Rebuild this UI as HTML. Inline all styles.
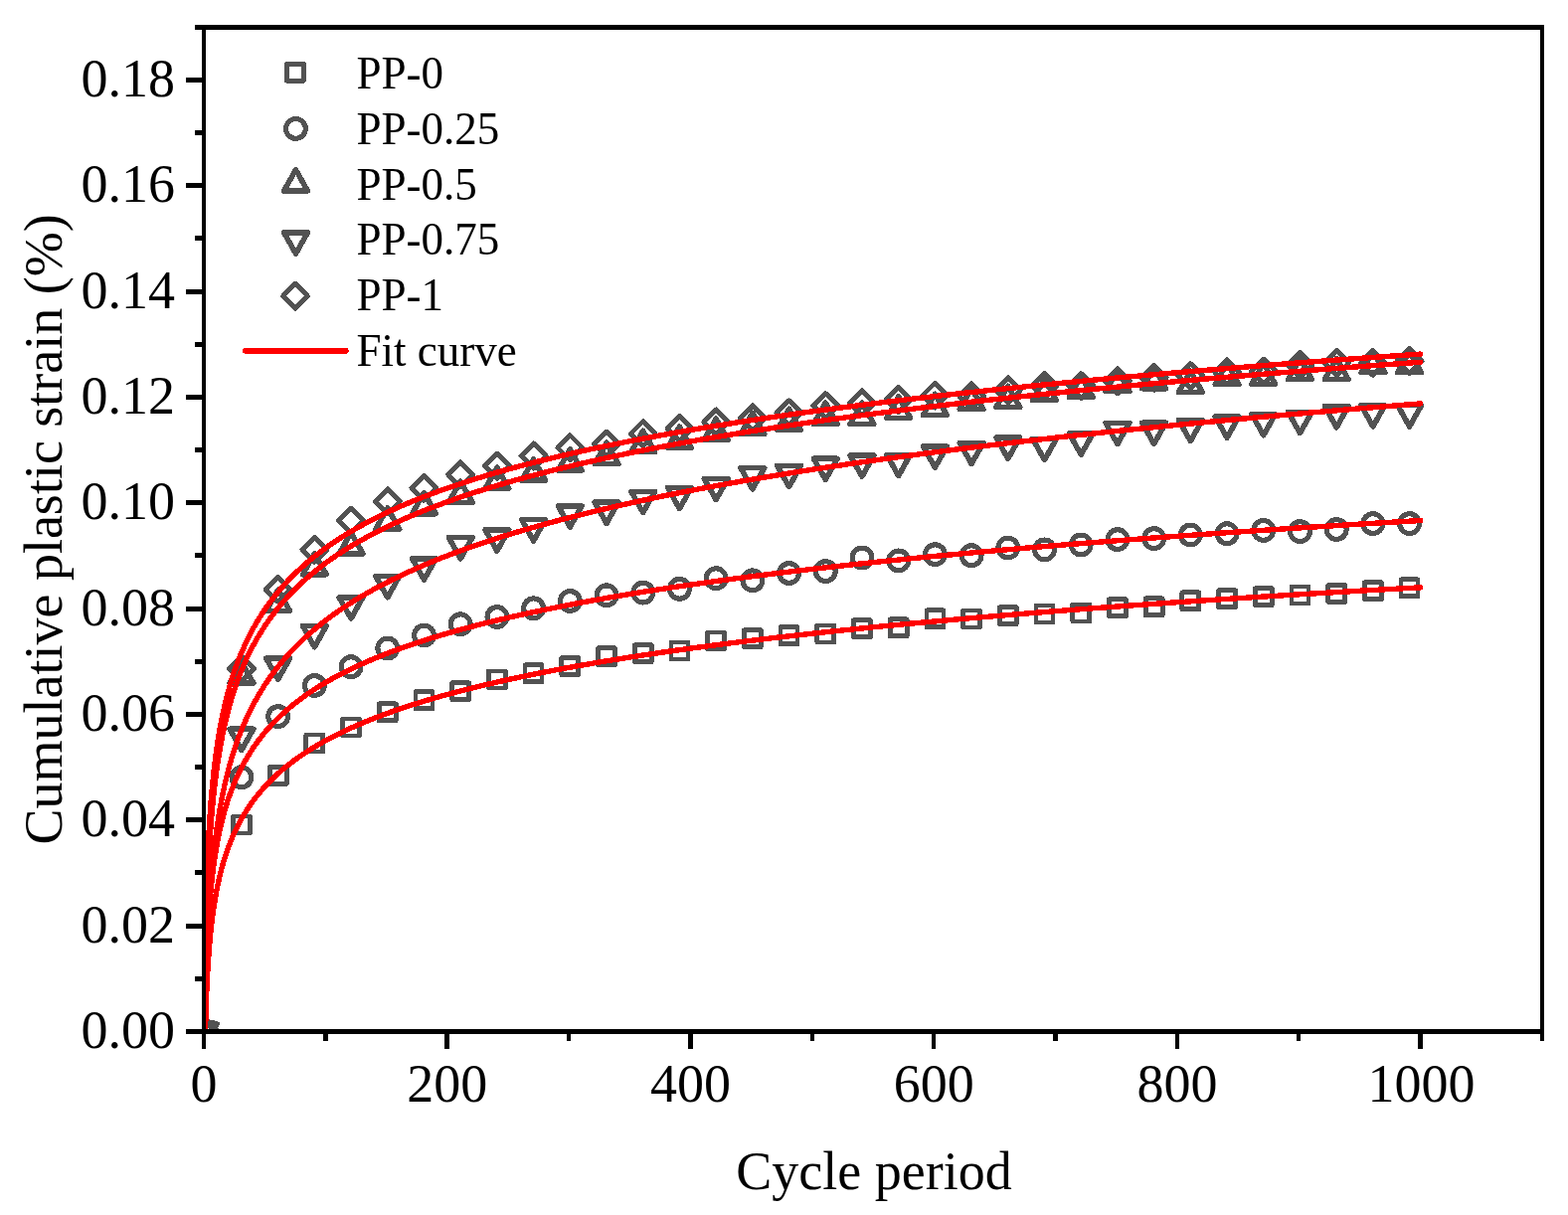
<!DOCTYPE html><html><head><meta charset="utf-8"><style>html,body{margin:0;padding:0;background:#fff;}svg{display:block;}</style></head><body>
<svg shape-rendering="crispEdges" width="1577" height="1222" viewBox="0 0 1577 1222" font-family="'Liberation Serif', 'Times New Roman', serif">
<rect width="1577" height="1222" fill="#fff"/>
<defs><clipPath id="pc"><rect x="207" y="30" width="1342" height="1005"/></clipPath></defs>
<g clip-path="url(#pc)" fill="none" stroke="#525252" stroke-width="4.7" stroke-linejoin="round">
<rect x="197.72" y="1028.50" width="17.0" height="17.0" stroke-width="4.75"/>
<rect x="234.43" y="821.00" width="17.0" height="17.0" stroke-width="4.75"/>
<rect x="271.14" y="771.50" width="17.0" height="17.0" stroke-width="4.75"/>
<rect x="307.85" y="738.90" width="17.0" height="17.0" stroke-width="4.75"/>
<rect x="344.56" y="723.00" width="17.0" height="17.0" stroke-width="4.75"/>
<rect x="381.26" y="707.80" width="17.0" height="17.0" stroke-width="4.75"/>
<rect x="417.97" y="695.70" width="17.0" height="17.0" stroke-width="4.75"/>
<rect x="454.68" y="686.70" width="17.0" height="17.0" stroke-width="4.75"/>
<rect x="491.39" y="674.90" width="17.0" height="17.0" stroke-width="4.75"/>
<rect x="528.10" y="668.70" width="17.0" height="17.0" stroke-width="4.75"/>
<rect x="564.80" y="661.60" width="17.0" height="17.0" stroke-width="4.75"/>
<rect x="601.51" y="651.70" width="17.0" height="17.0" stroke-width="4.75"/>
<rect x="638.22" y="648.70" width="17.0" height="17.0" stroke-width="4.75"/>
<rect x="674.93" y="646.00" width="17.0" height="17.0" stroke-width="4.75"/>
<rect x="711.64" y="636.00" width="17.0" height="17.0" stroke-width="4.75"/>
<rect x="748.34" y="633.70" width="17.0" height="17.0" stroke-width="4.75"/>
<rect x="785.05" y="630.70" width="17.0" height="17.0" stroke-width="4.75"/>
<rect x="821.76" y="628.90" width="17.0" height="17.0" stroke-width="4.75"/>
<rect x="858.47" y="623.60" width="17.0" height="17.0" stroke-width="4.75"/>
<rect x="895.18" y="622.80" width="17.0" height="17.0" stroke-width="4.75"/>
<rect x="931.88" y="613.80" width="17.0" height="17.0" stroke-width="4.75"/>
<rect x="968.59" y="614.00" width="17.0" height="17.0" stroke-width="4.75"/>
<rect x="1005.30" y="610.70" width="17.0" height="17.0" stroke-width="4.75"/>
<rect x="1042.01" y="608.90" width="17.0" height="17.0" stroke-width="4.75"/>
<rect x="1078.72" y="607.90" width="17.0" height="17.0" stroke-width="4.75"/>
<rect x="1115.42" y="602.80" width="17.0" height="17.0" stroke-width="4.75"/>
<rect x="1152.13" y="601.80" width="17.0" height="17.0" stroke-width="4.75"/>
<rect x="1188.84" y="595.80" width="17.0" height="17.0" stroke-width="4.75"/>
<rect x="1225.55" y="593.60" width="17.0" height="17.0" stroke-width="4.75"/>
<rect x="1262.26" y="591.70" width="17.0" height="17.0" stroke-width="4.75"/>
<rect x="1298.96" y="589.90" width="17.0" height="17.0" stroke-width="4.75"/>
<rect x="1335.67" y="588.50" width="17.0" height="17.0" stroke-width="4.75"/>
<rect x="1372.38" y="585.80" width="17.0" height="17.0" stroke-width="4.75"/>
<rect x="1409.09" y="582.80" width="17.0" height="17.0" stroke-width="4.75"/>
<circle cx="206.22" cy="1037.00" r="9.9" stroke-width="5.1"/>
<circle cx="242.93" cy="781.70" r="9.9" stroke-width="5.1"/>
<circle cx="279.64" cy="720.60" r="9.9" stroke-width="5.1"/>
<circle cx="316.35" cy="689.50" r="9.9" stroke-width="5.1"/>
<circle cx="353.06" cy="670.70" r="9.9" stroke-width="5.1"/>
<circle cx="389.76" cy="652.00" r="9.9" stroke-width="5.1"/>
<circle cx="426.47" cy="639.00" r="9.9" stroke-width="5.1"/>
<circle cx="463.18" cy="627.80" r="9.9" stroke-width="5.1"/>
<circle cx="499.89" cy="620.50" r="9.9" stroke-width="5.1"/>
<circle cx="536.60" cy="611.80" r="9.9" stroke-width="5.1"/>
<circle cx="573.30" cy="604.50" r="9.9" stroke-width="5.1"/>
<circle cx="610.01" cy="598.80" r="9.9" stroke-width="5.1"/>
<circle cx="646.72" cy="596.10" r="9.9" stroke-width="5.1"/>
<circle cx="683.43" cy="592.30" r="9.9" stroke-width="5.1"/>
<circle cx="720.14" cy="581.70" r="9.9" stroke-width="5.1"/>
<circle cx="756.84" cy="583.80" r="9.9" stroke-width="5.1"/>
<circle cx="793.55" cy="576.50" r="9.9" stroke-width="5.1"/>
<circle cx="830.26" cy="574.60" r="9.9" stroke-width="5.1"/>
<circle cx="866.97" cy="561.00" r="9.9" stroke-width="5.1"/>
<circle cx="903.68" cy="563.90" r="9.9" stroke-width="5.1"/>
<circle cx="940.38" cy="557.70" r="9.9" stroke-width="5.1"/>
<circle cx="977.09" cy="558.70" r="9.9" stroke-width="5.1"/>
<circle cx="1013.80" cy="551.00" r="9.9" stroke-width="5.1"/>
<circle cx="1050.51" cy="552.90" r="9.9" stroke-width="5.1"/>
<circle cx="1087.22" cy="548.00" r="9.9" stroke-width="5.1"/>
<circle cx="1123.92" cy="542.60" r="9.9" stroke-width="5.1"/>
<circle cx="1160.63" cy="541.60" r="9.9" stroke-width="5.1"/>
<circle cx="1197.34" cy="538.00" r="9.9" stroke-width="5.1"/>
<circle cx="1234.05" cy="536.70" r="9.9" stroke-width="5.1"/>
<circle cx="1270.76" cy="533.40" r="9.9" stroke-width="5.1"/>
<circle cx="1307.46" cy="534.60" r="9.9" stroke-width="5.1"/>
<circle cx="1344.17" cy="532.50" r="9.9" stroke-width="5.1"/>
<circle cx="1380.88" cy="526.60" r="9.9" stroke-width="5.1"/>
<circle cx="1417.59" cy="526.60" r="9.9" stroke-width="5.1"/>
<path d="M206.22,1022.85 L218.12,1044.08 L194.32,1044.08Z" stroke-width="5.5"/>
<path d="M242.93,665.85 L254.83,687.08 L231.03,687.08Z" stroke-width="5.5"/>
<path d="M279.64,593.25 L291.54,614.48 L267.74,614.48Z" stroke-width="5.5"/>
<path d="M316.35,556.55 L328.25,577.78 L304.45,577.78Z" stroke-width="5.5"/>
<path d="M353.06,535.65 L364.96,556.88 L341.16,556.88Z" stroke-width="5.5"/>
<path d="M389.76,511.05 L401.66,532.28 L377.86,532.28Z" stroke-width="5.5"/>
<path d="M426.47,495.55 L438.37,516.77 L414.57,516.77Z" stroke-width="5.5"/>
<path d="M463.18,484.05 L475.08,505.27 L451.28,505.27Z" stroke-width="5.5"/>
<path d="M499.89,470.15 L511.79,491.38 L487.99,491.38Z" stroke-width="5.5"/>
<path d="M536.60,461.95 L548.50,483.18 L524.70,483.18Z" stroke-width="5.5"/>
<path d="M573.30,451.85 L585.20,473.07 L561.40,473.07Z" stroke-width="5.5"/>
<path d="M610.01,445.25 L621.91,466.47 L598.11,466.47Z" stroke-width="5.5"/>
<path d="M646.72,433.35 L658.62,454.57 L634.82,454.57Z" stroke-width="5.5"/>
<path d="M683.43,429.15 L695.33,450.38 L671.53,450.38Z" stroke-width="5.5"/>
<path d="M720.14,421.15 L732.04,442.38 L708.24,442.38Z" stroke-width="5.5"/>
<path d="M756.84,415.25 L768.74,436.47 L744.94,436.47Z" stroke-width="5.5"/>
<path d="M793.55,411.35 L805.45,432.57 L781.65,432.57Z" stroke-width="5.5"/>
<path d="M830.26,405.15 L842.16,426.38 L818.36,426.38Z" stroke-width="5.5"/>
<path d="M866.97,405.15 L878.87,426.38 L855.07,426.38Z" stroke-width="5.5"/>
<path d="M903.68,399.05 L915.58,420.27 L891.78,420.27Z" stroke-width="5.5"/>
<path d="M940.38,396.25 L952.28,417.47 L928.48,417.47Z" stroke-width="5.5"/>
<path d="M977.09,390.45 L988.99,411.68 L965.19,411.68Z" stroke-width="5.5"/>
<path d="M1013.80,388.35 L1025.70,409.57 L1001.90,409.57Z" stroke-width="5.5"/>
<path d="M1050.51,381.45 L1062.41,402.68 L1038.61,402.68Z" stroke-width="5.5"/>
<path d="M1087.22,378.25 L1099.12,399.47 L1075.32,399.47Z" stroke-width="5.5"/>
<path d="M1123.92,372.45 L1135.82,393.68 L1112.02,393.68Z" stroke-width="5.5"/>
<path d="M1160.63,369.55 L1172.53,390.77 L1148.73,390.77Z" stroke-width="5.5"/>
<path d="M1197.34,373.15 L1209.24,394.38 L1185.44,394.38Z" stroke-width="5.5"/>
<path d="M1234.05,365.25 L1245.95,386.47 L1222.15,386.47Z" stroke-width="5.5"/>
<path d="M1270.76,365.25 L1282.66,386.47 L1258.86,386.47Z" stroke-width="5.5"/>
<path d="M1307.46,360.45 L1319.36,381.68 L1295.56,381.68Z" stroke-width="5.5"/>
<path d="M1344.17,360.45 L1356.07,381.68 L1332.27,381.68Z" stroke-width="5.5"/>
<path d="M1380.88,353.45 L1392.78,374.68 L1368.98,374.68Z" stroke-width="5.5"/>
<path d="M1417.59,353.45 L1429.49,374.68 L1405.69,374.68Z" stroke-width="5.5"/>
<path d="M206.22,1051.15 L218.12,1029.92 L194.32,1029.92Z" stroke-width="5.5"/>
<path d="M242.93,754.45 L254.83,733.22 L231.03,733.22Z" stroke-width="5.5"/>
<path d="M279.64,683.35 L291.54,662.12 L267.74,662.12Z" stroke-width="5.5"/>
<path d="M316.35,650.75 L328.25,629.52 L304.45,629.52Z" stroke-width="5.5"/>
<path d="M353.06,622.05 L364.96,600.82 L341.16,600.82Z" stroke-width="5.5"/>
<path d="M389.76,600.85 L401.66,579.62 L377.86,579.62Z" stroke-width="5.5"/>
<path d="M426.47,583.05 L438.37,561.82 L414.57,561.82Z" stroke-width="5.5"/>
<path d="M463.18,561.85 L475.08,540.62 L451.28,540.62Z" stroke-width="5.5"/>
<path d="M499.89,554.15 L511.79,532.92 L487.99,532.92Z" stroke-width="5.5"/>
<path d="M536.60,543.95 L548.50,522.72 L524.70,522.72Z" stroke-width="5.5"/>
<path d="M573.30,530.15 L585.20,508.93 L561.40,508.93Z" stroke-width="5.5"/>
<path d="M610.01,526.35 L621.91,505.13 L598.11,505.13Z" stroke-width="5.5"/>
<path d="M646.72,515.55 L658.62,494.32 L634.82,494.32Z" stroke-width="5.5"/>
<path d="M683.43,511.65 L695.33,490.43 L671.53,490.43Z" stroke-width="5.5"/>
<path d="M720.14,502.65 L732.04,481.43 L708.24,481.43Z" stroke-width="5.5"/>
<path d="M756.84,491.85 L768.74,470.62 L744.94,470.62Z" stroke-width="5.5"/>
<path d="M793.55,489.55 L805.45,468.32 L781.65,468.32Z" stroke-width="5.5"/>
<path d="M830.26,482.45 L842.16,461.23 L818.36,461.23Z" stroke-width="5.5"/>
<path d="M866.97,479.25 L878.87,458.03 L855.07,458.03Z" stroke-width="5.5"/>
<path d="M903.68,478.55 L915.58,457.32 L891.78,457.32Z" stroke-width="5.5"/>
<path d="M940.38,470.25 L952.28,449.03 L928.48,449.03Z" stroke-width="5.5"/>
<path d="M977.09,466.55 L988.99,445.32 L965.19,445.32Z" stroke-width="5.5"/>
<path d="M1013.80,461.35 L1025.70,440.12 L1001.90,440.12Z" stroke-width="5.5"/>
<path d="M1050.51,462.65 L1062.41,441.43 L1038.61,441.43Z" stroke-width="5.5"/>
<path d="M1087.22,457.25 L1099.12,436.03 L1075.32,436.03Z" stroke-width="5.5"/>
<path d="M1123.92,446.65 L1135.82,425.43 L1112.02,425.43Z" stroke-width="5.5"/>
<path d="M1160.63,446.45 L1172.53,425.23 L1148.73,425.23Z" stroke-width="5.5"/>
<path d="M1197.34,443.65 L1209.24,422.43 L1185.44,422.43Z" stroke-width="5.5"/>
<path d="M1234.05,440.25 L1245.95,419.03 L1222.15,419.03Z" stroke-width="5.5"/>
<path d="M1270.76,437.75 L1282.66,416.53 L1258.86,416.53Z" stroke-width="5.5"/>
<path d="M1307.46,435.65 L1319.36,414.43 L1295.56,414.43Z" stroke-width="5.5"/>
<path d="M1344.17,429.85 L1356.07,408.62 L1332.27,408.62Z" stroke-width="5.5"/>
<path d="M1380.88,428.95 L1392.78,407.73 L1368.98,407.73Z" stroke-width="5.5"/>
<path d="M1417.59,428.95 L1429.49,407.73 L1405.69,407.73Z" stroke-width="5.5"/>
<path d="M206.22,1024.50 L218.72,1037.00 L206.22,1049.50 L193.72,1037.00Z" stroke-width="4.9"/>
<path d="M242.93,659.90 L255.43,672.40 L242.93,684.90 L230.43,672.40Z" stroke-width="4.9"/>
<path d="M279.64,580.20 L292.14,592.70 L279.64,605.20 L267.14,592.70Z" stroke-width="4.9"/>
<path d="M316.35,540.30 L328.85,552.80 L316.35,565.30 L303.85,552.80Z" stroke-width="4.9"/>
<path d="M353.06,511.10 L365.56,523.60 L353.06,536.10 L340.56,523.60Z" stroke-width="4.9"/>
<path d="M389.76,491.80 L402.26,504.30 L389.76,516.80 L377.26,504.30Z" stroke-width="4.9"/>
<path d="M426.47,478.20 L438.97,490.70 L426.47,503.20 L413.97,490.70Z" stroke-width="4.9"/>
<path d="M463.18,464.80 L475.68,477.30 L463.18,489.80 L450.68,477.30Z" stroke-width="4.9"/>
<path d="M499.89,456.10 L512.39,468.60 L499.89,481.10 L487.39,468.60Z" stroke-width="4.9"/>
<path d="M536.60,446.00 L549.10,458.50 L536.60,471.00 L524.10,458.50Z" stroke-width="4.9"/>
<path d="M573.30,437.80 L585.80,450.30 L573.30,462.80 L560.80,450.30Z" stroke-width="4.9"/>
<path d="M610.01,434.10 L622.51,446.60 L610.01,459.10 L597.51,446.60Z" stroke-width="4.9"/>
<path d="M646.72,423.80 L659.22,436.30 L646.72,448.80 L634.22,436.30Z" stroke-width="4.9"/>
<path d="M683.43,418.50 L695.93,431.00 L683.43,443.50 L670.93,431.00Z" stroke-width="4.9"/>
<path d="M720.14,412.00 L732.64,424.50 L720.14,437.00 L707.64,424.50Z" stroke-width="4.9"/>
<path d="M756.84,407.90 L769.34,420.40 L756.84,432.90 L744.34,420.40Z" stroke-width="4.9"/>
<path d="M793.55,402.90 L806.05,415.40 L793.55,427.90 L781.05,415.40Z" stroke-width="4.9"/>
<path d="M830.26,395.70 L842.76,408.20 L830.26,420.70 L817.76,408.20Z" stroke-width="4.9"/>
<path d="M866.97,392.80 L879.47,405.30 L866.97,417.80 L854.47,405.30Z" stroke-width="4.9"/>
<path d="M903.68,389.50 L916.18,402.00 L903.68,414.50 L891.18,402.00Z" stroke-width="4.9"/>
<path d="M940.38,385.10 L952.88,397.60 L940.38,410.10 L927.88,397.60Z" stroke-width="4.9"/>
<path d="M977.09,385.90 L989.59,398.40 L977.09,410.90 L964.59,398.40Z" stroke-width="4.9"/>
<path d="M1013.80,379.80 L1026.30,392.30 L1013.80,404.80 L1001.30,392.30Z" stroke-width="4.9"/>
<path d="M1050.51,375.20 L1063.01,387.70 L1050.51,400.20 L1038.01,387.70Z" stroke-width="4.9"/>
<path d="M1087.22,375.60 L1099.72,388.10 L1087.22,400.60 L1074.72,388.10Z" stroke-width="4.9"/>
<path d="M1123.92,370.80 L1136.42,383.30 L1123.92,395.80 L1111.42,383.30Z" stroke-width="4.9"/>
<path d="M1160.63,367.20 L1173.13,379.70 L1160.63,392.20 L1148.13,379.70Z" stroke-width="4.9"/>
<path d="M1197.34,365.70 L1209.84,378.20 L1197.34,390.70 L1184.84,378.20Z" stroke-width="4.9"/>
<path d="M1234.05,361.60 L1246.55,374.10 L1234.05,386.60 L1221.55,374.10Z" stroke-width="4.9"/>
<path d="M1270.76,361.10 L1283.26,373.60 L1270.76,386.10 L1258.26,373.60Z" stroke-width="4.9"/>
<path d="M1307.46,354.60 L1319.96,367.10 L1307.46,379.60 L1294.96,367.10Z" stroke-width="4.9"/>
<path d="M1344.17,352.50 L1356.67,365.00 L1344.17,377.50 L1331.67,365.00Z" stroke-width="4.9"/>
<path d="M1380.88,352.50 L1393.38,365.00 L1380.88,377.50 L1368.38,365.00Z" stroke-width="4.9"/>
<path d="M1417.59,350.70 L1430.09,363.20 L1417.59,375.70 L1405.09,363.20Z" stroke-width="4.9"/>
</g>
<g clip-path="url(#pc)" fill="none" stroke="#ff0000" stroke-width="5.4" stroke-linejoin="round" stroke-linecap="round">
<path d="M206.14,1057.86 L206.18,1055.71 L206.22,1053.56 L206.26,1051.41 L206.30,1049.25 L206.34,1047.10 L206.38,1044.95 L206.43,1042.80 L206.47,1040.65 L206.52,1038.50 L206.57,1036.35 L206.62,1034.19 L206.68,1032.04 L206.73,1029.89 L206.79,1027.74 L206.85,1025.59 L206.91,1023.44 L206.97,1021.29 L207.03,1019.13 L207.10,1016.98 L207.17,1014.83 L207.24,1012.68 L207.31,1010.53 L207.39,1008.38 L207.47,1006.23 L207.55,1004.07 L207.63,1001.92 L207.72,999.77 L207.80,997.62 L207.90,995.47 L207.99,993.32 L208.09,991.17 L208.19,989.02 L208.29,986.86 L208.40,984.71 L208.51,982.56 L208.63,980.41 L208.75,978.26 L208.87,976.11 L208.99,973.96 L209.13,971.80 L209.26,969.65 L209.40,967.50 L209.54,965.35 L209.69,963.20 L209.84,961.05 L210.00,958.90 L210.17,956.74 L210.33,954.59 L210.51,952.44 L210.69,950.29 L210.88,948.14 L211.07,945.99 L211.27,943.84 L211.47,941.68 L211.68,939.53 L211.90,937.38 L212.12,935.23 L212.36,933.08 L212.60,930.93 L212.85,928.78 L213.10,926.63 L213.37,924.47 L213.64,922.32 L213.92,920.17 L214.21,918.02 L214.52,915.87 L214.83,913.72 L215.15,911.57 L215.48,909.41 L215.82,907.26 L216.17,905.11 L216.54,902.96 L216.92,900.81 L217.31,898.66 L217.71,896.51 L218.12,894.35 L218.55,892.20 L218.99,890.05 L219.45,887.90 L219.92,885.75 L220.41,883.60 L220.91,881.45 L221.43,879.30 L221.97,877.14 L222.53,874.99 L223.10,872.84 L223.69,870.69 L224.30,868.54 L224.93,866.39 L225.58,864.24 L226.25,862.08 L226.95,859.93 L227.66,857.78 L228.41,855.63 L229.17,853.48 L229.96,851.33 L230.77,849.18 L231.62,847.02 L232.49,844.87 L233.38,842.72 L234.31,840.57 L235.27,838.42 L236.26,836.27 L237.28,834.12 L238.33,831.96 L239.42,829.81 L240.55,827.66 L241.71,825.51 L242.32,824.40 L248.28,814.49 L254.24,805.85 L260.20,798.20 L266.16,791.34 L272.13,785.12 L278.09,779.42 L284.05,774.17 L290.01,769.31 L295.97,764.77 L301.93,760.52 L307.89,756.53 L313.85,752.76 L319.82,749.19 L325.78,745.80 L331.74,742.58 L337.70,739.50 L343.66,736.56 L349.62,733.75 L355.58,731.04 L361.54,728.44 L367.51,725.94 L373.47,723.53 L379.43,721.20 L385.39,718.96 L391.35,716.78 L397.31,714.67 L403.27,712.63 L409.23,710.65 L415.19,708.72 L421.16,706.85 L427.12,705.03 L433.08,703.26 L439.04,701.53 L445.00,699.85 L450.96,698.20 L456.92,696.60 L462.88,695.04 L468.85,693.51 L474.81,692.01 L480.77,690.55 L486.73,689.12 L492.69,687.72 L498.65,686.34 L504.61,685.00 L510.57,683.68 L516.54,682.39 L522.50,681.12 L528.46,679.87 L534.42,678.65 L540.38,677.45 L546.34,676.27 L552.30,675.11 L558.26,673.97 L564.22,672.85 L570.19,671.75 L576.15,670.67 L582.11,669.60 L588.07,668.55 L594.03,667.52 L599.99,666.50 L605.95,665.50 L611.91,664.51 L617.88,663.54 L623.84,662.58 L629.80,661.63 L635.76,660.70 L641.72,659.78 L647.68,658.87 L653.64,657.98 L659.60,657.09 L665.57,656.22 L671.53,655.36 L677.49,654.51 L683.45,653.67 L689.41,652.84 L695.37,652.03 L701.33,651.22 L707.29,650.42 L713.26,649.63 L719.22,648.85 L725.18,648.08 L731.14,647.31 L737.10,646.56 L743.06,645.81 L749.02,645.08 L754.98,644.35 L760.94,643.63 L766.91,642.91 L772.87,642.21 L778.83,641.51 L784.79,640.82 L790.75,640.13 L796.71,639.45 L802.67,638.78 L808.63,638.12 L814.60,637.46 L820.56,636.81 L826.52,636.16 L832.48,635.53 L838.44,634.89 L844.40,634.27 L850.36,633.64 L856.32,633.03 L862.29,632.42 L868.25,631.82 L874.21,631.22 L880.17,630.62 L886.13,630.03 L892.09,629.45 L898.05,628.87 L904.01,628.30 L909.97,627.73 L915.94,627.17 L921.90,626.61 L927.86,626.06 L933.82,625.51 L939.78,624.96 L945.74,624.42 L951.70,623.88 L957.66,623.35 L963.63,622.82 L969.59,622.30 L975.55,621.78 L981.51,621.26 L987.47,620.75 L993.43,620.24 L999.39,619.74 L1005.35,619.24 L1011.32,618.74 L1017.28,618.25 L1023.24,617.76 L1029.20,617.27 L1035.16,616.79 L1041.12,616.31 L1047.08,615.84 L1053.04,615.37 L1059.01,614.90 L1064.97,614.43 L1070.93,613.97 L1076.89,613.51 L1082.85,613.05 L1088.81,612.60 L1094.77,612.15 L1100.73,611.70 L1106.69,611.26 L1112.66,610.82 L1118.62,610.38 L1124.58,609.95 L1130.54,609.51 L1136.50,609.08 L1142.46,608.66 L1148.42,608.23 L1154.38,607.81 L1160.35,607.39 L1166.31,606.98 L1172.27,606.56 L1178.23,606.15 L1184.19,605.74 L1190.15,605.34 L1196.11,604.93 L1202.07,604.53 L1208.04,604.13 L1214.00,603.74 L1219.96,603.34 L1225.92,602.95 L1231.88,602.56 L1237.84,602.17 L1243.80,601.79 L1249.76,601.40 L1255.72,601.02 L1261.69,600.64 L1267.65,600.27 L1273.61,599.89 L1279.57,599.52 L1285.53,599.15 L1291.49,598.78 L1297.45,598.42 L1303.41,598.05 L1309.38,597.69 L1315.34,597.33 L1321.30,596.97 L1327.26,596.62 L1333.22,596.26 L1339.18,595.91 L1345.14,595.56 L1351.10,595.21 L1357.07,594.86 L1363.03,594.52 L1368.99,594.17 L1374.95,593.83 L1380.91,593.49 L1386.87,593.15 L1392.83,592.81 L1398.79,592.48 L1404.76,592.15 L1410.72,591.81 L1416.68,591.48 L1422.64,591.16 L1428.60,590.83"/>
<path d="M205.75,1059.93 L205.78,1057.57 L205.80,1055.21 L205.83,1052.85 L205.85,1050.49 L205.88,1048.13 L205.91,1045.77 L205.94,1043.41 L205.97,1041.04 L206.00,1038.68 L206.04,1036.32 L206.07,1033.96 L206.10,1031.60 L206.14,1029.24 L206.18,1026.88 L206.22,1024.51 L206.26,1022.15 L206.30,1019.79 L206.34,1017.43 L206.38,1015.07 L206.43,1012.71 L206.47,1010.35 L206.52,1007.99 L206.57,1005.62 L206.62,1003.26 L206.68,1000.90 L206.73,998.54 L206.79,996.18 L206.85,993.82 L206.91,991.46 L206.97,989.10 L207.03,986.73 L207.10,984.37 L207.17,982.01 L207.24,979.65 L207.31,977.29 L207.39,974.93 L207.47,972.57 L207.55,970.20 L207.63,967.84 L207.72,965.48 L207.80,963.12 L207.90,960.76 L207.99,958.40 L208.09,956.04 L208.19,953.68 L208.29,951.31 L208.40,948.95 L208.51,946.59 L208.63,944.23 L208.75,941.87 L208.87,939.51 L208.99,937.15 L209.13,934.79 L209.26,932.42 L209.40,930.06 L209.54,927.70 L209.69,925.34 L209.84,922.98 L210.00,920.62 L210.17,918.26 L210.33,915.89 L210.51,913.53 L210.69,911.17 L210.88,908.81 L211.07,906.45 L211.27,904.09 L211.47,901.73 L211.68,899.37 L211.90,897.00 L212.12,894.64 L212.36,892.28 L212.60,889.92 L212.85,887.56 L213.10,885.20 L213.37,882.84 L213.64,880.48 L213.92,878.11 L214.21,875.75 L214.52,873.39 L214.83,871.03 L215.15,868.67 L215.48,866.31 L215.82,863.95 L216.17,861.59 L216.54,859.22 L216.92,856.86 L217.31,854.50 L217.71,852.14 L218.12,849.78 L218.55,847.42 L218.99,845.06 L219.45,842.70 L219.92,840.34 L220.41,837.97 L220.91,835.61 L221.43,833.25 L221.97,830.89 L222.53,828.53 L223.10,826.17 L223.69,823.81 L224.30,821.45 L224.93,819.09 L225.58,816.73 L226.25,814.37 L226.95,812.00 L227.66,809.64 L228.41,807.28 L229.17,804.92 L229.96,802.56 L230.77,800.20 L231.62,797.84 L232.49,795.48 L233.38,793.12 L234.31,790.76 L235.27,788.40 L236.26,786.04 L237.28,783.68 L238.33,781.33 L239.42,778.97 L240.55,776.61 L241.71,774.25 L242.32,773.04 L248.28,762.17 L254.24,752.71 L260.20,744.35 L266.16,736.85 L272.13,730.05 L278.09,723.85 L284.05,718.13 L290.01,712.85 L295.97,707.93 L301.93,703.32 L307.89,699.00 L313.85,694.93 L319.82,691.09 L325.78,687.44 L331.74,683.98 L337.70,680.67 L343.66,677.52 L349.62,674.51 L355.58,671.61 L361.54,668.84 L367.51,666.17 L373.47,663.60 L379.43,661.12 L385.39,658.73 L391.35,656.41 L397.31,654.17 L403.27,652.00 L409.23,649.90 L415.19,647.86 L421.16,645.87 L427.12,643.94 L433.08,642.06 L439.04,640.24 L445.00,638.45 L450.96,636.72 L456.92,635.02 L462.88,633.36 L468.85,631.75 L474.81,630.17 L480.77,628.62 L486.73,627.11 L492.69,625.63 L498.65,624.18 L504.61,622.76 L510.57,621.37 L516.54,620.00 L522.50,618.66 L528.46,617.35 L534.42,616.06 L540.38,614.79 L546.34,613.55 L552.30,612.32 L558.26,611.12 L564.22,609.94 L570.19,608.78 L576.15,607.64 L582.11,606.51 L588.07,605.41 L594.03,604.32 L599.99,603.24 L605.95,602.19 L611.91,601.15 L617.88,600.12 L623.84,599.11 L629.80,598.11 L635.76,597.13 L641.72,596.16 L647.68,595.20 L653.64,594.26 L659.60,593.33 L665.57,592.41 L671.53,591.50 L677.49,590.61 L683.45,589.72 L689.41,588.85 L695.37,587.99 L701.33,587.14 L707.29,586.29 L713.26,585.46 L719.22,584.64 L725.18,583.83 L731.14,583.02 L737.10,582.23 L743.06,581.44 L749.02,580.67 L754.98,579.90 L760.94,579.14 L766.91,578.39 L772.87,577.64 L778.83,576.91 L784.79,576.18 L790.75,575.46 L796.71,574.74 L802.67,574.04 L808.63,573.34 L814.60,572.64 L820.56,571.96 L826.52,571.28 L832.48,570.61 L838.44,569.94 L844.40,569.28 L850.36,568.63 L856.32,567.98 L862.29,567.34 L868.25,566.70 L874.21,566.07 L880.17,565.44 L886.13,564.82 L892.09,564.21 L898.05,563.60 L904.01,563.00 L909.97,562.40 L915.94,561.81 L921.90,561.22 L927.86,560.63 L933.82,560.05 L939.78,559.48 L945.74,558.91 L951.70,558.35 L957.66,557.79 L963.63,557.23 L969.59,556.68 L975.55,556.13 L981.51,555.59 L987.47,555.05 L993.43,554.51 L999.39,553.98 L1005.35,553.46 L1011.32,552.93 L1017.28,552.41 L1023.24,551.90 L1029.20,551.39 L1035.16,550.88 L1041.12,550.37 L1047.08,549.87 L1053.04,549.38 L1059.01,548.88 L1064.97,548.39 L1070.93,547.91 L1076.89,547.42 L1082.85,546.94 L1088.81,546.47 L1094.77,545.99 L1100.73,545.52 L1106.69,545.05 L1112.66,544.59 L1118.62,544.13 L1124.58,543.67 L1130.54,543.22 L1136.50,542.76 L1142.46,542.31 L1148.42,541.87 L1154.38,541.42 L1160.35,540.98 L1166.31,540.54 L1172.27,540.11 L1178.23,539.67 L1184.19,539.24 L1190.15,538.82 L1196.11,538.39 L1202.07,537.97 L1208.04,537.55 L1214.00,537.13 L1219.96,536.72 L1225.92,536.30 L1231.88,535.89 L1237.84,535.49 L1243.80,535.08 L1249.76,534.68 L1255.72,534.28 L1261.69,533.88 L1267.65,533.48 L1273.61,533.09 L1279.57,532.69 L1285.53,532.31 L1291.49,531.92 L1297.45,531.53 L1303.41,531.15 L1309.38,530.77 L1315.34,530.39 L1321.30,530.01 L1327.26,529.64 L1333.22,529.26 L1339.18,528.89 L1345.14,528.52 L1351.10,528.15 L1357.07,527.79 L1363.03,527.42 L1368.99,527.06 L1374.95,526.70 L1380.91,526.34 L1386.87,525.99 L1392.83,525.63 L1398.79,525.28 L1404.76,524.93 L1410.72,524.58 L1416.68,524.23 L1422.64,523.89 L1428.60,523.54"/>
<path d="M205.60,1059.90 L205.62,1056.91 L205.64,1053.92 L205.66,1050.92 L205.68,1047.93 L205.70,1044.94 L205.73,1041.95 L205.75,1038.96 L205.78,1035.97 L205.80,1032.98 L205.83,1029.99 L205.85,1027.00 L205.88,1024.01 L205.91,1021.01 L205.94,1018.02 L205.97,1015.03 L206.00,1012.04 L206.04,1009.05 L206.07,1006.06 L206.10,1003.07 L206.14,1000.08 L206.18,997.09 L206.22,994.10 L206.26,991.10 L206.30,988.11 L206.34,985.12 L206.38,982.13 L206.43,979.14 L206.47,976.15 L206.52,973.16 L206.57,970.17 L206.62,967.18 L206.68,964.19 L206.73,961.19 L206.79,958.20 L206.85,955.21 L206.91,952.22 L206.97,949.23 L207.03,946.24 L207.10,943.25 L207.17,940.26 L207.24,937.27 L207.31,934.28 L207.39,931.29 L207.47,928.29 L207.55,925.30 L207.63,922.31 L207.72,919.32 L207.80,916.33 L207.90,913.34 L207.99,910.35 L208.09,907.36 L208.19,904.37 L208.29,901.38 L208.40,898.38 L208.51,895.39 L208.63,892.40 L208.75,889.41 L208.87,886.42 L208.99,883.43 L209.13,880.44 L209.26,877.45 L209.40,874.46 L209.54,871.47 L209.69,868.48 L209.84,865.48 L210.00,862.49 L210.17,859.50 L210.33,856.51 L210.51,853.52 L210.69,850.53 L210.88,847.54 L211.07,844.55 L211.27,841.56 L211.47,838.57 L211.68,835.58 L211.90,832.58 L212.12,829.59 L212.36,826.60 L212.60,823.61 L212.85,820.62 L213.10,817.63 L213.37,814.64 L213.64,811.65 L213.92,808.66 L214.21,805.67 L214.52,802.68 L214.83,799.69 L215.15,796.70 L215.48,793.70 L215.82,790.71 L216.17,787.72 L216.54,784.73 L216.92,781.74 L217.31,778.75 L217.71,775.76 L218.12,772.77 L218.55,769.78 L218.99,766.79 L219.45,763.80 L219.92,760.81 L220.41,757.82 L220.91,754.83 L221.43,751.84 L221.97,748.85 L222.53,745.86 L223.10,742.87 L223.69,739.88 L224.30,736.89 L224.93,733.90 L225.58,730.91 L226.25,727.92 L226.95,724.93 L227.66,721.94 L228.41,718.95 L229.17,715.96 L229.96,712.98 L230.77,709.99 L231.62,707.00 L232.49,704.01 L233.38,701.02 L234.31,698.03 L235.27,695.05 L236.26,692.06 L237.28,689.07 L238.33,686.09 L239.42,683.10 L240.55,680.12 L241.71,677.13 L242.32,675.60 L248.28,661.84 L254.24,649.88 L260.20,639.30 L266.16,629.83 L272.13,621.25 L278.09,613.41 L284.05,606.21 L290.01,599.55 L295.97,593.35 L301.93,587.56 L307.89,582.13 L313.85,577.01 L319.82,572.18 L325.78,567.61 L331.74,563.27 L337.70,559.13 L343.66,555.18 L349.62,551.41 L355.58,547.80 L361.54,544.33 L367.51,540.99 L373.47,537.78 L379.43,534.69 L385.39,531.71 L391.35,528.82 L397.31,526.03 L403.27,523.33 L409.23,520.70 L415.19,518.16 L421.16,515.69 L427.12,513.29 L433.08,510.95 L439.04,508.68 L445.00,506.46 L450.96,504.30 L456.92,502.19 L462.88,500.14 L468.85,498.13 L474.81,496.16 L480.77,494.24 L486.73,492.36 L492.69,490.52 L498.65,488.72 L504.61,486.96 L510.57,485.23 L516.54,483.54 L522.50,481.87 L528.46,480.24 L534.42,478.64 L540.38,477.07 L546.34,475.53 L552.30,474.01 L558.26,472.52 L564.22,471.06 L570.19,469.61 L576.15,468.20 L582.11,466.80 L588.07,465.43 L594.03,464.08 L599.99,462.75 L605.95,461.44 L611.91,460.15 L617.88,458.88 L623.84,457.62 L629.80,456.39 L635.76,455.17 L641.72,453.97 L647.68,452.78 L653.64,451.61 L659.60,450.46 L665.57,449.32 L671.53,448.20 L677.49,447.09 L683.45,445.99 L689.41,444.91 L695.37,443.84 L701.33,442.79 L707.29,441.75 L713.26,440.72 L719.22,439.70 L725.18,438.69 L731.14,437.70 L737.10,436.71 L743.06,435.74 L749.02,434.78 L754.98,433.83 L760.94,432.89 L766.91,431.96 L772.87,431.04 L778.83,430.13 L784.79,429.23 L790.75,428.33 L796.71,427.45 L802.67,426.58 L808.63,425.71 L814.60,424.85 L820.56,424.00 L826.52,423.16 L832.48,422.33 L838.44,421.51 L844.40,420.69 L850.36,419.88 L856.32,419.08 L862.29,418.29 L868.25,417.50 L874.21,416.72 L880.17,415.95 L886.13,415.18 L892.09,414.42 L898.05,413.67 L904.01,412.92 L909.97,412.18 L915.94,411.45 L921.90,410.72 L927.86,410.00 L933.82,409.28 L939.78,408.58 L945.74,407.87 L951.70,407.17 L957.66,406.48 L963.63,405.79 L969.59,405.11 L975.55,404.44 L981.51,403.77 L987.47,403.10 L993.43,402.44 L999.39,401.78 L1005.35,401.13 L1011.32,400.49 L1017.28,399.84 L1023.24,399.21 L1029.20,398.58 L1035.16,397.95 L1041.12,397.33 L1047.08,396.71 L1053.04,396.09 L1059.01,395.49 L1064.97,394.88 L1070.93,394.28 L1076.89,393.68 L1082.85,393.09 L1088.81,392.50 L1094.77,391.92 L1100.73,391.34 L1106.69,390.76 L1112.66,390.19 L1118.62,389.62 L1124.58,389.05 L1130.54,388.49 L1136.50,387.93 L1142.46,387.38 L1148.42,386.82 L1154.38,386.28 L1160.35,385.73 L1166.31,385.19 L1172.27,384.65 L1178.23,384.12 L1184.19,383.59 L1190.15,383.06 L1196.11,382.54 L1202.07,382.02 L1208.04,381.50 L1214.00,380.98 L1219.96,380.47 L1225.92,379.96 L1231.88,379.46 L1237.84,378.95 L1243.80,378.45 L1249.76,377.96 L1255.72,377.46 L1261.69,376.97 L1267.65,376.48 L1273.61,376.00 L1279.57,375.51 L1285.53,375.03 L1291.49,374.55 L1297.45,374.08 L1303.41,373.61 L1309.38,373.14 L1315.34,372.67 L1321.30,372.20 L1327.26,371.74 L1333.22,371.28 L1339.18,370.82 L1345.14,370.37 L1351.10,369.92 L1357.07,369.47 L1363.03,369.02 L1368.99,368.57 L1374.95,368.13 L1380.91,367.69 L1386.87,367.25 L1392.83,366.81 L1398.79,366.38 L1404.76,365.95 L1410.72,365.52 L1416.68,365.09 L1422.64,364.66 L1428.60,364.24"/>
<path d="M206.18,1058.97 L206.22,1055.97 L206.26,1052.96 L206.30,1049.95 L206.34,1046.94 L206.38,1043.93 L206.43,1040.92 L206.47,1037.92 L206.52,1034.91 L206.57,1031.90 L206.62,1028.89 L206.68,1025.88 L206.73,1022.87 L206.79,1019.87 L206.85,1016.86 L206.91,1013.85 L206.97,1010.84 L207.03,1007.83 L207.10,1004.82 L207.17,1001.82 L207.24,998.81 L207.31,995.80 L207.39,992.79 L207.47,989.78 L207.55,986.77 L207.63,983.76 L207.72,980.76 L207.80,977.75 L207.90,974.74 L207.99,971.73 L208.09,968.72 L208.19,965.71 L208.29,962.71 L208.40,959.70 L208.51,956.69 L208.63,953.68 L208.75,950.67 L208.87,947.66 L208.99,944.65 L209.13,941.65 L209.26,938.64 L209.40,935.63 L209.54,932.62 L209.69,929.61 L209.84,926.60 L210.00,923.59 L210.17,920.58 L210.33,917.58 L210.51,914.57 L210.69,911.56 L210.88,908.55 L211.07,905.54 L211.27,902.53 L211.47,899.52 L211.68,896.51 L211.90,893.51 L212.12,890.50 L212.36,887.49 L212.60,884.48 L212.85,881.47 L213.10,878.46 L213.37,875.45 L213.64,872.44 L213.92,869.43 L214.21,866.43 L214.52,863.42 L214.83,860.41 L215.15,857.40 L215.48,854.39 L215.82,851.38 L216.17,848.37 L216.54,845.36 L216.92,842.35 L217.31,839.34 L217.71,836.33 L218.12,833.33 L218.55,830.32 L218.99,827.31 L219.45,824.30 L219.92,821.29 L220.41,818.28 L220.91,815.27 L221.43,812.26 L221.97,809.25 L222.53,806.24 L223.10,803.23 L223.69,800.22 L224.30,797.21 L224.93,794.20 L225.58,791.19 L226.25,788.18 L226.95,785.17 L227.66,782.16 L228.41,779.15 L229.17,776.14 L229.96,773.13 L230.77,770.12 L231.62,767.11 L232.49,764.10 L233.38,761.09 L234.31,758.08 L235.27,755.07 L236.26,752.06 L237.28,749.05 L238.33,746.04 L239.42,743.02 L240.55,740.01 L241.71,737.00 L242.32,735.45 L248.28,721.57 L254.24,709.48 L260.20,698.77 L266.16,689.16 L272.13,680.44 L278.09,672.47 L284.05,665.11 L290.01,658.30 L295.97,651.94 L301.93,645.98 L307.89,640.38 L313.85,635.10 L319.82,630.10 L325.78,625.34 L331.74,620.82 L337.70,616.50 L343.66,612.38 L349.62,608.42 L355.58,604.63 L361.54,600.98 L367.51,597.47 L373.47,594.08 L379.43,590.81 L385.39,587.65 L391.35,584.60 L397.31,581.64 L403.27,578.76 L409.23,575.98 L415.19,573.27 L421.16,570.64 L427.12,568.08 L433.08,565.59 L439.04,563.16 L445.00,560.79 L450.96,558.48 L456.92,556.22 L462.88,554.02 L468.85,551.86 L474.81,549.76 L480.77,547.70 L486.73,545.68 L492.69,543.71 L498.65,541.78 L504.61,539.88 L510.57,538.02 L516.54,536.20 L522.50,534.41 L528.46,532.66 L534.42,530.93 L540.38,529.24 L546.34,527.58 L552.30,525.94 L558.26,524.33 L564.22,522.75 L570.19,521.20 L576.15,519.67 L582.11,518.16 L588.07,516.68 L594.03,515.22 L599.99,513.78 L605.95,512.37 L611.91,510.97 L617.88,509.59 L623.84,508.24 L629.80,506.90 L635.76,505.58 L641.72,504.28 L647.68,503.00 L653.64,501.73 L659.60,500.48 L665.57,499.25 L671.53,498.03 L677.49,496.83 L683.45,495.64 L689.41,494.47 L695.37,493.31 L701.33,492.16 L707.29,491.03 L713.26,489.91 L719.22,488.80 L725.18,487.71 L731.14,486.63 L737.10,485.56 L743.06,484.50 L749.02,483.46 L754.98,482.42 L760.94,481.40 L766.91,480.39 L772.87,479.39 L778.83,478.39 L784.79,477.41 L790.75,476.44 L796.71,475.48 L802.67,474.52 L808.63,473.58 L814.60,472.65 L820.56,471.72 L826.52,470.81 L832.48,469.90 L838.44,469.00 L844.40,468.11 L850.36,467.22 L856.32,466.35 L862.29,465.48 L868.25,464.62 L874.21,463.77 L880.17,462.93 L886.13,462.09 L892.09,461.26 L898.05,460.44 L904.01,459.62 L909.97,458.81 L915.94,458.01 L921.90,457.21 L927.86,456.42 L933.82,455.64 L939.78,454.86 L945.74,454.09 L951.70,453.33 L957.66,452.57 L963.63,451.81 L969.59,451.07 L975.55,450.33 L981.51,449.59 L987.47,448.86 L993.43,448.13 L999.39,447.42 L1005.35,446.70 L1011.32,445.99 L1017.28,445.29 L1023.24,444.59 L1029.20,443.89 L1035.16,443.21 L1041.12,442.52 L1047.08,441.84 L1053.04,441.17 L1059.01,440.50 L1064.97,439.83 L1070.93,439.17 L1076.89,438.51 L1082.85,437.86 L1088.81,437.21 L1094.77,436.57 L1100.73,435.93 L1106.69,435.30 L1112.66,434.66 L1118.62,434.04 L1124.58,433.41 L1130.54,432.79 L1136.50,432.18 L1142.46,431.57 L1148.42,430.96 L1154.38,430.36 L1160.35,429.75 L1166.31,429.16 L1172.27,428.56 L1178.23,427.98 L1184.19,427.39 L1190.15,426.81 L1196.11,426.23 L1202.07,425.65 L1208.04,425.08 L1214.00,424.51 L1219.96,423.94 L1225.92,423.38 L1231.88,422.82 L1237.84,422.27 L1243.80,421.71 L1249.76,421.16 L1255.72,420.62 L1261.69,420.07 L1267.65,419.53 L1273.61,418.99 L1279.57,418.46 L1285.53,417.92 L1291.49,417.39 L1297.45,416.87 L1303.41,416.34 L1309.38,415.82 L1315.34,415.30 L1321.30,414.79 L1327.26,414.28 L1333.22,413.77 L1339.18,413.26 L1345.14,412.75 L1351.10,412.25 L1357.07,411.75 L1363.03,411.25 L1368.99,410.76 L1374.95,410.26 L1380.91,409.77 L1386.87,409.29 L1392.83,408.80 L1398.79,408.32 L1404.76,407.84 L1410.72,407.36 L1416.68,406.88 L1422.64,406.41 L1428.60,405.94"/>
<path d="M205.43,1058.79 L205.45,1055.90 L205.46,1053.00 L205.48,1050.10 L205.49,1047.21 L205.51,1044.31 L205.53,1041.42 L205.54,1038.52 L205.56,1035.62 L205.58,1032.73 L205.60,1029.83 L205.62,1026.93 L205.64,1024.04 L205.66,1021.14 L205.68,1018.25 L205.70,1015.35 L205.73,1012.45 L205.75,1009.56 L205.78,1006.66 L205.80,1003.77 L205.83,1000.87 L205.85,997.97 L205.88,995.08 L205.91,992.18 L205.94,989.28 L205.97,986.39 L206.00,983.49 L206.04,980.60 L206.07,977.70 L206.10,974.80 L206.14,971.91 L206.18,969.01 L206.22,966.12 L206.26,963.22 L206.30,960.32 L206.34,957.43 L206.38,954.53 L206.43,951.64 L206.47,948.74 L206.52,945.84 L206.57,942.95 L206.62,940.05 L206.68,937.15 L206.73,934.26 L206.79,931.36 L206.85,928.47 L206.91,925.57 L206.97,922.67 L207.03,919.78 L207.10,916.88 L207.17,913.99 L207.24,911.09 L207.31,908.19 L207.39,905.30 L207.47,902.40 L207.55,899.51 L207.63,896.61 L207.72,893.71 L207.80,890.82 L207.90,887.92 L207.99,885.02 L208.09,882.13 L208.19,879.23 L208.29,876.34 L208.40,873.44 L208.51,870.54 L208.63,867.65 L208.75,864.75 L208.87,861.86 L208.99,858.96 L209.13,856.06 L209.26,853.17 L209.40,850.27 L209.54,847.38 L209.69,844.48 L209.84,841.58 L210.00,838.69 L210.17,835.79 L210.33,832.89 L210.51,830.00 L210.69,827.10 L210.88,824.21 L211.07,821.31 L211.27,818.41 L211.47,815.52 L211.68,812.62 L211.90,809.73 L212.12,806.83 L212.36,803.93 L212.60,801.04 L212.85,798.14 L213.10,795.25 L213.37,792.35 L213.64,789.45 L213.92,786.56 L214.21,783.66 L214.52,780.76 L214.83,777.87 L215.15,774.97 L215.48,772.08 L215.82,769.18 L216.17,766.28 L216.54,763.39 L216.92,760.49 L217.31,757.60 L217.71,754.70 L218.12,751.80 L218.55,748.91 L218.99,746.01 L219.45,743.12 L219.92,740.22 L220.41,737.32 L220.91,734.43 L221.43,731.53 L221.97,728.64 L222.53,725.74 L223.10,722.85 L223.69,719.95 L224.30,717.05 L224.93,714.16 L225.58,711.26 L226.25,708.37 L226.95,705.47 L227.66,702.58 L228.41,699.68 L229.17,696.78 L229.96,693.89 L230.77,690.99 L231.62,688.10 L232.49,685.20 L233.38,682.31 L234.31,679.41 L235.27,676.52 L236.26,673.62 L237.28,670.73 L238.33,667.83 L239.42,664.94 L240.55,662.05 L241.71,659.15 L242.32,657.66 L248.28,644.33 L254.24,632.72 L260.20,622.44 L266.16,613.23 L272.13,604.88 L278.09,597.25 L284.05,590.22 L290.01,583.72 L295.97,577.66 L301.93,572.00 L307.89,566.68 L313.85,561.68 L319.82,556.94 L325.78,552.46 L331.74,548.20 L337.70,544.14 L343.66,540.27 L349.62,536.57 L355.58,533.03 L361.54,529.63 L367.51,526.36 L373.47,523.22 L379.43,520.20 L385.39,517.28 L391.35,514.46 L397.31,511.73 L403.27,509.10 L409.23,506.54 L415.19,504.06 L421.16,501.66 L427.12,499.32 L433.08,497.05 L439.04,494.84 L445.00,492.69 L450.96,490.60 L456.92,488.56 L462.88,486.56 L468.85,484.62 L474.81,482.72 L480.77,480.86 L486.73,479.05 L492.69,477.27 L498.65,475.53 L504.61,473.83 L510.57,472.16 L516.54,470.53 L522.50,468.93 L528.46,467.36 L534.42,465.82 L540.38,464.30 L546.34,462.82 L552.30,461.36 L558.26,459.93 L564.22,458.52 L570.19,457.13 L576.15,455.77 L582.11,454.43 L588.07,453.11 L594.03,451.82 L599.99,450.54 L605.95,449.28 L611.91,448.04 L617.88,446.82 L623.84,445.62 L629.80,444.43 L635.76,443.27 L641.72,442.11 L647.68,440.98 L653.64,439.86 L659.60,438.75 L665.57,437.66 L671.53,436.58 L677.49,435.52 L683.45,434.47 L689.41,433.43 L695.37,432.41 L701.33,431.40 L707.29,430.40 L713.26,429.41 L719.22,428.44 L725.18,427.47 L731.14,426.52 L737.10,425.58 L743.06,424.65 L749.02,423.73 L754.98,422.82 L760.94,421.91 L766.91,421.02 L772.87,420.14 L778.83,419.27 L784.79,418.41 L790.75,417.55 L796.71,416.70 L802.67,415.87 L808.63,415.04 L814.60,414.22 L820.56,413.41 L826.52,412.60 L832.48,411.80 L838.44,411.01 L844.40,410.23 L850.36,409.46 L856.32,408.69 L862.29,407.93 L868.25,407.18 L874.21,406.43 L880.17,405.69 L886.13,404.96 L892.09,404.23 L898.05,403.51 L904.01,402.79 L909.97,402.08 L915.94,401.38 L921.90,400.69 L927.86,399.99 L933.82,399.31 L939.78,398.63 L945.74,397.96 L951.70,397.29 L957.66,396.62 L963.63,395.97 L969.59,395.31 L975.55,394.67 L981.51,394.02 L987.47,393.38 L993.43,392.75 L999.39,392.12 L1005.35,391.50 L1011.32,390.88 L1017.28,390.27 L1023.24,389.66 L1029.20,389.05 L1035.16,388.45 L1041.12,387.85 L1047.08,387.26 L1053.04,386.67 L1059.01,386.09 L1064.97,385.51 L1070.93,384.93 L1076.89,384.36 L1082.85,383.79 L1088.81,383.23 L1094.77,382.67 L1100.73,382.11 L1106.69,381.56 L1112.66,381.01 L1118.62,380.46 L1124.58,379.92 L1130.54,379.38 L1136.50,378.85 L1142.46,378.32 L1148.42,377.79 L1154.38,377.26 L1160.35,376.74 L1166.31,376.22 L1172.27,375.71 L1178.23,375.20 L1184.19,374.69 L1190.15,374.18 L1196.11,373.68 L1202.07,373.18 L1208.04,372.68 L1214.00,372.19 L1219.96,371.70 L1225.92,371.21 L1231.88,370.72 L1237.84,370.24 L1243.80,369.76 L1249.76,369.28 L1255.72,368.81 L1261.69,368.34 L1267.65,367.87 L1273.61,367.40 L1279.57,366.94 L1285.53,366.48 L1291.49,366.02 L1297.45,365.56 L1303.41,365.11 L1309.38,364.66 L1315.34,364.21 L1321.30,363.76 L1327.26,363.32 L1333.22,362.88 L1339.18,362.44 L1345.14,362.00 L1351.10,361.57 L1357.07,361.14 L1363.03,360.71 L1368.99,360.28 L1374.95,359.85 L1380.91,359.43 L1386.87,359.01 L1392.83,358.59 L1398.79,358.17 L1404.76,357.76 L1410.72,357.34 L1416.68,356.93 L1422.64,356.52 L1428.60,356.12"/>
</g>
<g stroke="#000" fill="none">
<line x1="205" y1="25" x2="205" y2="1055" stroke-width="4"/>
<line x1="1551" y1="25" x2="1551" y2="1047" stroke-width="4"/>
<line x1="196" y1="27.5" x2="1553" y2="27.5" stroke-width="5"/>
<line x1="187" y1="1037.5" x2="1553" y2="1037.5" stroke-width="5"/>
<line x1="187" y1="1037.50" x2="205" y2="1037.50" stroke-width="5"/>
<line x1="196" y1="984.50" x2="205" y2="984.50" stroke-width="5"/>
<line x1="187" y1="931.50" x2="205" y2="931.50" stroke-width="5"/>
<line x1="196" y1="877.50" x2="205" y2="877.50" stroke-width="5"/>
<line x1="187" y1="824.50" x2="205" y2="824.50" stroke-width="5"/>
<line x1="196" y1="771.50" x2="205" y2="771.50" stroke-width="5"/>
<line x1="187" y1="718.50" x2="205" y2="718.50" stroke-width="5"/>
<line x1="196" y1="665.50" x2="205" y2="665.50" stroke-width="5"/>
<line x1="187" y1="612.50" x2="205" y2="612.50" stroke-width="5"/>
<line x1="196" y1="558.50" x2="205" y2="558.50" stroke-width="5"/>
<line x1="187" y1="505.50" x2="205" y2="505.50" stroke-width="5"/>
<line x1="196" y1="452.50" x2="205" y2="452.50" stroke-width="5"/>
<line x1="187" y1="399.50" x2="205" y2="399.50" stroke-width="5"/>
<line x1="196" y1="346.50" x2="205" y2="346.50" stroke-width="5"/>
<line x1="187" y1="293.50" x2="205" y2="293.50" stroke-width="5"/>
<line x1="196" y1="239.50" x2="205" y2="239.50" stroke-width="5"/>
<line x1="187" y1="186.50" x2="205" y2="186.50" stroke-width="5"/>
<line x1="196" y1="133.50" x2="205" y2="133.50" stroke-width="5"/>
<line x1="187" y1="80.50" x2="205" y2="80.50" stroke-width="5"/>
<line x1="196" y1="27.50" x2="205" y2="27.50" stroke-width="5"/>
<line x1="327.36" y1="1037" x2="327.36" y2="1047" stroke-width="4.5"/>
<line x1="449.72" y1="1037" x2="449.72" y2="1055" stroke-width="4.5"/>
<line x1="572.08" y1="1037" x2="572.08" y2="1047" stroke-width="4.5"/>
<line x1="694.44" y1="1037" x2="694.44" y2="1055" stroke-width="4.5"/>
<line x1="816.80" y1="1037" x2="816.80" y2="1047" stroke-width="4.5"/>
<line x1="939.16" y1="1037" x2="939.16" y2="1055" stroke-width="4.5"/>
<line x1="1061.52" y1="1037" x2="1061.52" y2="1047" stroke-width="4.5"/>
<line x1="1183.88" y1="1037" x2="1183.88" y2="1055" stroke-width="4.5"/>
<line x1="1306.24" y1="1037" x2="1306.24" y2="1047" stroke-width="4.5"/>
<line x1="1428.60" y1="1037" x2="1428.60" y2="1055" stroke-width="4.5"/>
</g>
<g font-size="54" fill="#000">
<text x="176" y="1054.00" text-anchor="end">0.00</text>
<text x="176" y="947.67" text-anchor="end">0.02</text>
<text x="176" y="841.33" text-anchor="end">0.04</text>
<text x="176" y="735.00" text-anchor="end">0.06</text>
<text x="176" y="628.66" text-anchor="end">0.08</text>
<text x="176" y="522.33" text-anchor="end">0.10</text>
<text x="176" y="416.00" text-anchor="end">0.12</text>
<text x="176" y="309.66" text-anchor="end">0.14</text>
<text x="176" y="203.33" text-anchor="end">0.16</text>
<text x="176" y="96.99" text-anchor="end">0.18</text>
<text x="205.00" y="1108" text-anchor="middle">0</text>
<text x="449.72" y="1108" text-anchor="middle">200</text>
<text x="694.44" y="1108" text-anchor="middle">400</text>
<text x="939.16" y="1108" text-anchor="middle">600</text>
<text x="1183.88" y="1108" text-anchor="middle">800</text>
<text x="1429.60" y="1108" text-anchor="middle">1000</text>
</g>
<text x="879" y="1196.4" font-size="54" text-anchor="middle">Cycle period</text>
<text transform="translate(62,532.4) rotate(-90)" font-size="54" text-anchor="middle">Cumulative plastic strain (%)</text>
<g fill="none" stroke="#525252" stroke-width="4.7" stroke-linejoin="round">
<rect x="288.50" y="64.40" width="17.0" height="17.0" stroke-width="4.75"/>
<circle cx="297.45" cy="129.45" r="9.9" stroke-width="5.1"/>
<path d="M297.50,170.75 L309.40,191.97 L285.60,191.97Z" stroke-width="5.5"/>
<path d="M297.50,255.10 L309.40,233.88 L285.60,233.88Z" stroke-width="5.5"/>
<path d="M297.00,285.40 L309.50,297.90 L297.00,310.40 L284.50,297.90Z" stroke-width="4.9"/>
</g>
<line x1="247" y1="352.85" x2="347.7" y2="352.85" stroke="#ff0000" stroke-width="5.9" stroke-linecap="round"/>
<g font-size="45" fill="#000">
<text transform="translate(358.5,88.70) scale(1,1.05)">PP-0</text>
<text transform="translate(358.5,144.60) scale(1,1.05)">PP-0.25</text>
<text transform="translate(358.5,200.50) scale(1,1.05)">PP-0.5</text>
<text transform="translate(358.5,256.40) scale(1,1.05)">PP-0.75</text>
<text transform="translate(358.5,312.30) scale(1,1.05)">PP-1</text>
<text transform="translate(358.5,368.20) scale(1,1.05)">Fit curve</text>
</g>
</svg></body></html>
